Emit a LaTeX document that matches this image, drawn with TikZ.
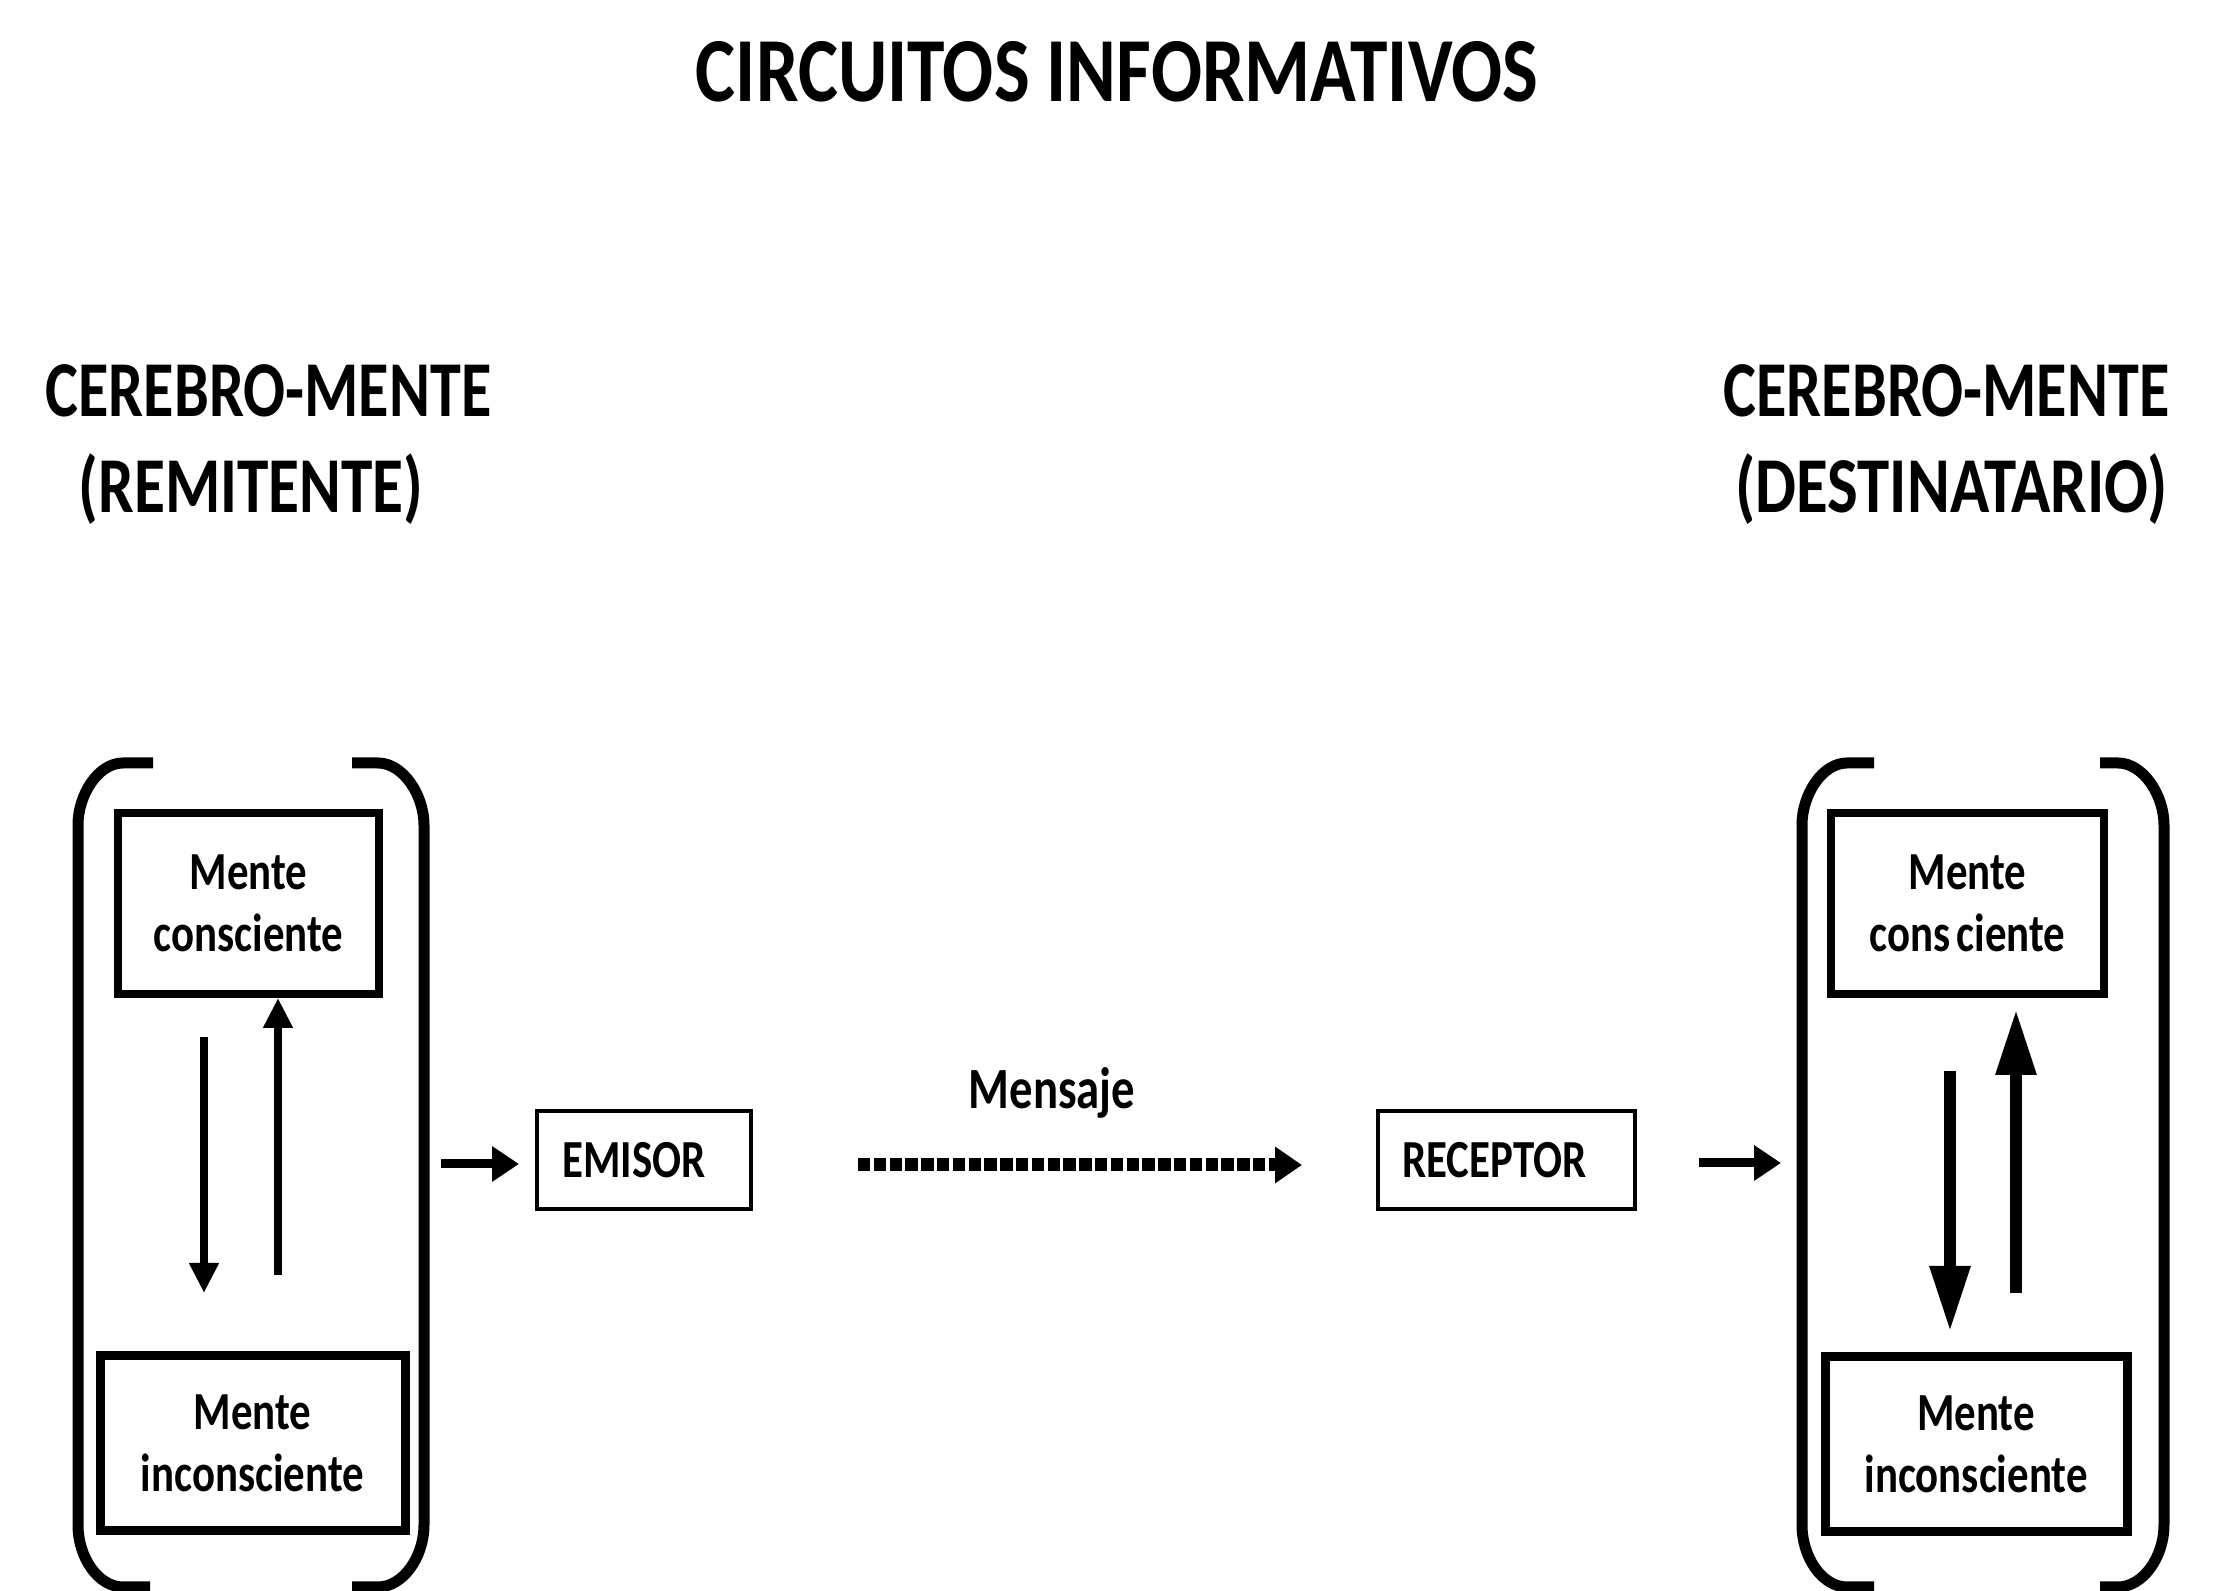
\documentclass[tikz,border=0pt]{standalone}
\usepackage{fontspec}
\setmainfont{Carlito}[FakeStretch=0.8]
\newfontfamily\titlefont{Carlito}[FakeStretch=0.825]
\newfontfamily\headfont{Carlito}[FakeStretch=0.785]
\newfontfamily\destfont{Carlito}[FakeStretch=0.82]
\usetikzlibrary{arrows.meta}
\tikzset{
  ttl/.style={inner sep=0pt, anchor=base, font=\titlefont\bfseries\fontsize{22.9}{27}\selectfont},
  head/.style={inner sep=0pt, anchor=base, font=\headfont\bfseries\fontsize{19.8}{24}\selectfont},
  lbl/.style={inner sep=0pt, anchor=base, font=\bfseries\fontsize{14.6}{17}\selectfont},
  mbox/.style={draw, inner sep=0pt, align=center, font=\bfseries\fontsize{13.4}{15.5}\selectfont},
  sbox/.style={draw, line width=1pt, inner sep=0pt, minimum height=24.5pt, font=\bfseries\fontsize{13.4}{15.5}\selectfont},
  brk/.style={line width=2.75pt},
  thinarr/.style={line width=2pt, -{Triangle[length=7.5pt,width=7pt]}},
  sidearr/.style={line width=2.25pt, -{Triangle[length=6.75pt,width=8.5pt]}},
  dotarr/.style={line width=3.25pt, dash pattern=on 3.1pt off 0.85pt, -{Triangle[length=6.75pt,width=8.75pt]}},
  thickarr/.style={line width=3pt, -{Triangle[length=16.5pt,width=9.5pt]}}
}
\begin{document}
\begin{tikzpicture}[x=0.25pt,y=-0.25pt]
\useasboundingbox[fill=white] (0,0) rectangle (2232,1591);

% titles
\node[ttl] (title) at (1117,102) {CIRCUITOS INFORMATIVOS};
\node[head] (lh1) at (268.5,417) {CEREBRO-MENTE};
\node[head, font=\bfseries\fontsize{19.8}{24}\selectfont] (lh2) at (251,513) {(REMITENTE)};
\node[head] (rh1) at (1946.5,417) {CEREBRO-MENTE};
\node[head, font=\destfont\bfseries\fontsize{19.8}{24}\selectfont] (rh2) at (1951.5,513) {(DESTINATARIO)};

% left brackets
\draw[brk] (153,763) -- (123,763) .. controls (98,763) and (78,795) .. (78,825) -- (78,1525) .. controls (78,1557) and (98,1587) .. (123,1587) -- (150,1587);
\draw[brk] (352,763) -- (378,763) .. controls (403,763) and (424,795) .. (424,825) -- (424,1525) .. controls (424,1557) and (403,1587) .. (378,1587) -- (352,1587);
% right brackets
\draw[brk] (1874,763) -- (1847,763) .. controls (1822,763) and (1802,795) .. (1802,825) -- (1802,1525) .. controls (1802,1557) and (1822,1587) .. (1847,1587) -- (1874,1587);
\draw[brk] (2100,763) -- (2118,763) .. controls (2143,763) and (2164,795) .. (2164,825) -- (2164,1525) .. controls (2164,1557) and (2143,1587) .. (2118,1587) -- (2100,1587);

% boxes
\node[mbox, line width=2pt, minimum width=65.25pt, minimum height=45.25pt] (lc) at (248.5,903.5) {Mente\\consciente};
\node[mbox, line width=2.25pt, minimum width=76.25pt, minimum height=43.75pt] (li) at (252.5,1443.5) {Mente\\inconsciente};
\node[mbox, line width=2pt, minimum width=68.25pt, minimum height=45.25pt] (rc) at (1967.5,903.5) {Mente\\cons\kern0.12em ciente};
\node[mbox, line width=2.25pt, minimum width=75.5pt, minimum height=43.75pt] (ri) at (1976,1444.5) {Mente\\inconsciente};

\node[sbox, minimum width=53.5pt] (emisor) at (644,1160) {\hspace*{-5pt}EMISOR};
\node[sbox, minimum width=64.25pt] (receptor) at (1506.5,1160) {\hspace*{-6pt}RECEPTOR};
\node[lbl] (mensaje) at (1052,1109) {Mensaje};

% free ends
\coordinate (ld1) at (204,1037);
\coordinate (ld2) at (204,1293);
\coordinate (lu1) at (278,1275);
\coordinate (rd1) at (1950,1071);
\coordinate (rd2) at (1950,1332);
\coordinate (ru1) at (2016,1293);
\coordinate (ea) at (441,1164);
\coordinate (eb) at (519,1164);
\coordinate (ma) at (858,1165);
\coordinate (mb) at (1302,1165);
\coordinate (ra) at (1699,1163);
\coordinate (rb) at (1781,1163);

% connectors
\draw[thinarr] (ld1) -- (ld2);
\draw[thinarr] (lu1) -- (lu1 |- lc.south);
\draw[thickarr] (rd1) -- (rd2);
\draw[thickarr] (ru1) -- ++(0,-284);
\draw[sidearr] (ea) -- (eb);
\draw[dotarr] (ma) -- (mb);
\draw[sidearr] (ra) -- (rb);
\end{tikzpicture}
\end{document}
